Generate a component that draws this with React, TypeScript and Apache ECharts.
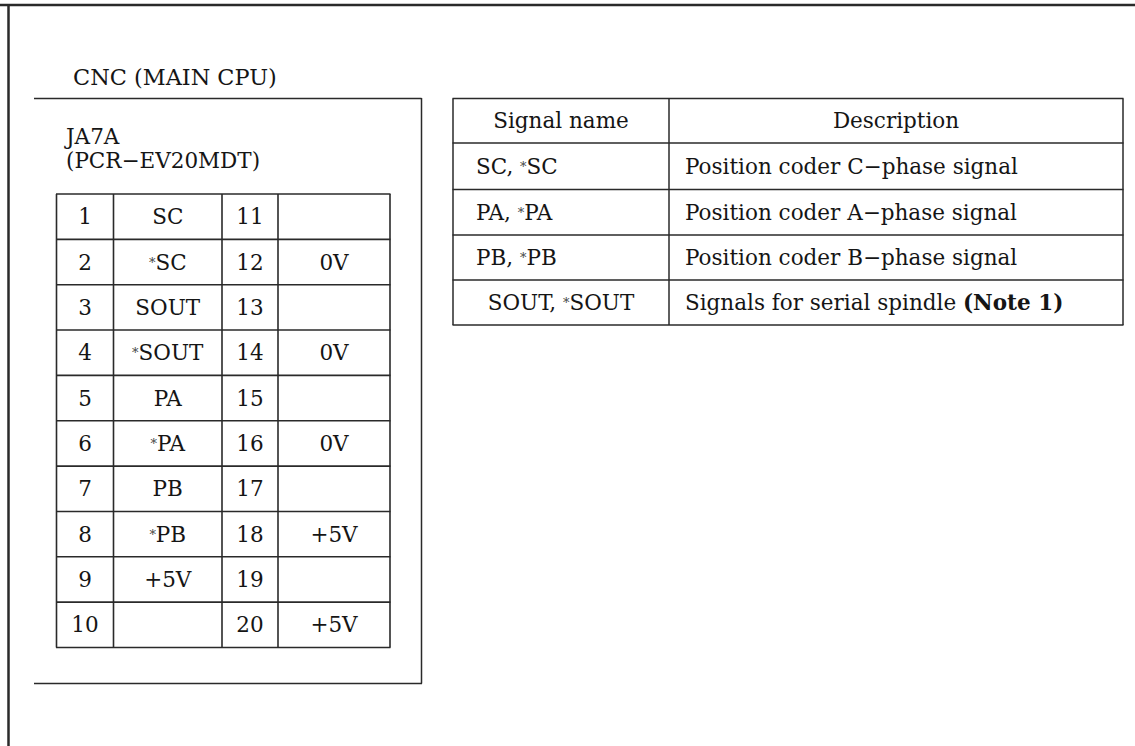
import React, { useEffect, useRef } from "react";
import * as echarts from "echarts";

// ---- data ----
const title = "CNC (MAIN CPU)";
const connectorName = "JA7A";
const connectorType = "(PCR\u2212EV20MDT)";
const pinNumbersLeft = ["1", "2", "3", "4", "5", "6", "7", "8", "9", "10"];
const pinSignalsLeft = ["SC", "*SC", "SOUT", "*SOUT", "PA", "*PA", "PB", "*PB", "+5V", ""];
const pinNumbersRight = ["11", "12", "13", "14", "15", "16", "17", "18", "19", "20"];
const pinSignalsRight = ["", "0V", "", "0V", "", "0V", "", "+5V", "", "+5V"];
const tableHeaders = ["Signal name", "Description"];
const signalNames = ["SC, *SC", "PA, *PA", "PB, *PB", "SOUT, *SOUT"];
const signalDescriptions = [
  "Position coder C\u2212phase signal",
  "Position coder A\u2212phase signal",
  "Position coder B\u2212phase signal",
  "Signals for serial spindle {b|(Note 1)}",
];

const FONT = "'DejaVu Serif', 'Liberation Serif', serif";
const FS = 21.5;
const LINE = "#2a2a2a";
const TXT = "#151515";

// convert "*" into small raised asterisk rich text
function richify(s: string): string {
  return s.replace(/\*/g, "{a|*}");
}

const rich = {
  a: { fontSize: 13, fontFamily: FONT, fill: "#444", verticalAlign: "middle" },
  b: { fontSize: FS, fontFamily: FONT, fontWeight: "bold", fill: TXT },
};

function text(x: number, y: number, s: string, align: string = "left", extra: any = {}) {
  return {
    type: "text",
    x,
    y,
    silent: true,
    style: {
      text: richify(s),
      x: 0,
      y: 0,
      fill: TXT,
      fontFamily: FONT,
      fontSize: FS,
      align,
      verticalAlign: "middle",
      rich,
      ...extra,
    },
  };
}

function line(x1: number, y1: number, x2: number, y2: number, w = 1.5) {
  return {
    type: "line",
    silent: true,
    shape: { x1, y1, x2, y2 },
    style: { stroke: LINE, lineWidth: w },
  };
}

function buildGraphics() {
  const g: any[] = [];
  // outer frame
  g.push(line(0, 5, 1135, 5, 2.5));
  g.push(line(8.5, 4, 8.5, 746, 2.5));

  // CNC box
  g.push(text(73, 77, title, "left", { fontSize: 22.4 }));
  g.push(line(34, 98.5, 421.5, 98.5, 1.5));
  g.push(line(421.5, 98, 421.5, 683.5, 1.5));
  g.push(line(34, 683.5, 422, 683.5, 1.5));
  g.push(text(66, 136.5, connectorName));
  g.push(text(66, 160, connectorType));

  // pin table
  const cols = [56.5, 113.5, 222, 278, 390];
  const top = 194;
  const rh = 45.35;
  const n = pinNumbersLeft.length;
  for (let i = 0; i <= n; i++) g.push(line(cols[0] - 0.5, top + i * rh, cols[4] + 0.5, top + i * rh, 1.6));
  cols.forEach((c) => g.push(line(c, top, c, top + n * rh, 1.6)));
  const centers = [0, 1, 2, 3].map((k) => (cols[k] + cols[k + 1]) / 2);
  for (let i = 0; i < n; i++) {
    const cy = top + (i + 0.5) * rh;
    g.push(text(centers[0], cy, pinNumbersLeft[i], "center"));
    if (pinSignalsLeft[i]) g.push(text(centers[1], cy, pinSignalsLeft[i], "center"));
    g.push(text(centers[2], cy, pinNumbersRight[i], "center"));
    if (pinSignalsRight[i]) g.push(text(centers[3], cy, pinSignalsRight[i], "center"));
  }

  // signal table
  const tx = [453, 669, 1123];
  const ty = [98.5, 143, 189.5, 235, 280, 325];
  ty.forEach((y) => g.push(line(tx[0] - 0.5, y, tx[2] + 0.5, y, 1.5)));
  tx.forEach((x) => g.push(line(x, ty[0], x, ty[ty.length - 1], 1.5)));
  const hy = (ty[0] + ty[1]) / 2;
  g.push(text((tx[0] + tx[1]) / 2, hy, tableHeaders[0], "center"));
  g.push(text((tx[1] + tx[2]) / 2, hy, tableHeaders[1], "center"));
  for (let i = 0; i < signalNames.length; i++) {
    const cy = (ty[i + 1] + ty[i + 2]) / 2;
    const last = i === signalNames.length - 1;
    if (last) g.push(text((tx[0] + tx[1]) / 2, cy, signalNames[i], "center"));
    else g.push(text(476, cy, signalNames[i], "left"));
    g.push(text(685, cy, signalDescriptions[i], "left"));
  }
  return g;
}

export default function App() {
  const ref = useRef<HTMLDivElement>(null);
  useEffect(() => {
    if (!ref.current) return;
    const chart = echarts.init(ref.current, undefined, { renderer: "svg" });
    chart.setOption({
      animation: false,
      backgroundColor: "#ffffff",
      graphic: { elements: buildGraphics() },
    });
    return () => chart.dispose();
  }, []);
  return (
    <div
      ref={ref}
      style={{ position: "absolute", left: 0, top: 0, width: 1135, height: 746, background: "#fff" }}
    />
  );
}
